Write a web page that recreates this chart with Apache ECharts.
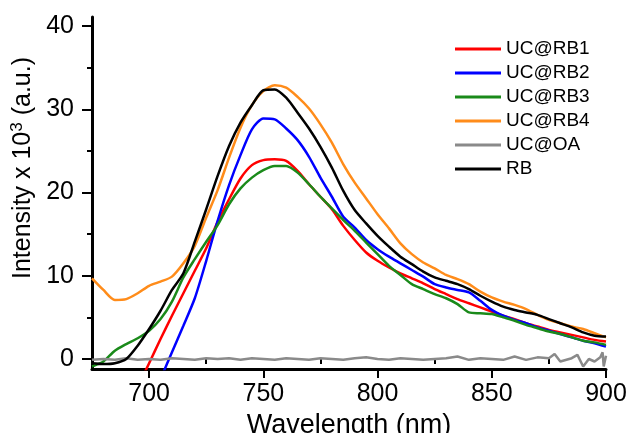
<!DOCTYPE html>
<html>
<head>
<meta charset="utf-8">
<script src="https://cdn.jsdelivr.net/npm/echarts@6/dist/echarts.min.js"></script>
<style>html,body{margin:0;padding:0;background:#fff}#c{width:630px;height:433px}</style>
</head>
<body>
<div id="c"></div>
<script>
const wavelength = [675,680,685,690,695,700,705,710,715,720,725,730,735,740,745,750,755,760,765,770,775,780,785,790,795,800,805,810,815,820,825,830,835,840,845,850,855,860,865,870,875,880,885,890,895,900];
const ucRB1 = [null,null,null,null,-3.4,-0.5,2.4,5.2,7.9,10.6,13.3,16.5,19.2,21.7,23.3,23.9,24.0,23.8,22.6,21.0,19.5,18.0,16.0,14.3,12.8,11.8,11.0,10.3,9.7,9.1,8.4,7.8,7.2,6.7,6.2,5.7,5.2,4.8,4.3,3.9,3.5,3.2,2.9,2.6,2.3,2.1];
const ucRB2 = [null,null,null,null,null,null,-2.4,0.8,4.0,7.3,11.8,16.6,20.9,24.5,27.6,28.9,28.8,27.7,26.3,24.3,21.8,19.5,17.1,15.8,14.3,13.2,12.3,11.5,10.7,9.9,9.0,8.6,8.3,8.0,7.0,5.9,5.2,4.7,4.3,3.8,3.4,3.0,2.6,2.2,1.9,1.5];
const ucRB3 = [-0.9,-0.3,1.0,1.8,2.5,3.4,4.8,6.9,9.8,12.0,14.1,16.1,18.6,20.5,21.8,22.7,23.2,23.2,22.4,21.0,19.5,18.1,16.7,15.4,14.0,12.6,11.2,10.1,9.0,8.4,7.8,7.3,6.6,5.6,5.5,5.4,5.0,4.6,4.1,3.7,3.3,3.0,2.6,2.2,2.0,1.7];
const ucRB4 = [9.7,8.3,7.1,7.2,7.9,8.8,9.3,9.9,11.5,13.6,17.0,20.3,24.2,27.8,30.5,32.2,32.9,32.6,31.5,30.1,28.2,26.0,23.4,21.2,19.3,17.4,15.7,13.9,12.6,11.6,10.9,10.1,9.6,9.0,8.1,7.4,6.9,6.5,6.0,5.3,4.7,4.3,3.9,3.6,3.1,2.6];
const rb = [-0.5,-0.6,-0.5,0.0,1.6,3.6,5.8,8.3,10.3,14.1,18.0,22.0,25.6,28.4,30.5,32.3,32.4,31.4,29.6,27.7,25.5,23.0,20.2,17.9,16.3,14.8,13.5,12.3,11.4,10.5,9.8,9.4,9.0,8.4,7.6,6.9,6.3,5.9,5.6,5.3,4.8,4.3,3.8,3.2,2.8,2.7];
const grayX = [675,680,685,690,695,700,705,710,715,720,725,730,735,740,745,750,755,760,765,770,775,780,785,790,795,800,805,810,815,820,825,830,835,840,845,850,855,860,865,870,875,877.5,880,885,887.5,890,892.5,895,897.5,898.5,899,900];
const ucOA = [-0.1,0.0,-0.1,0.1,-0.1,0.0,-0.1,0.1,0.0,-0.1,0.1,0.0,0.1,-0.1,0.1,0.0,-0.1,0.1,0.0,-0.1,0.1,0.0,-0.1,0.1,0.2,0.0,-0.1,0.1,0.0,-0.1,0.0,0.1,0.3,-0.1,0.1,0.0,-0.1,0.3,-0.1,0.2,0.1,0.6,-0.3,0.1,0.5,-0.9,0.0,-0.3,0.2,0.8,-0.9,0.4];

const xMajor = [700,750,800,850,900];
const xMinor = [725,775,825,875];
const yMajor = [0,10,20,30,40];
const yMinor = [5,15,25,35];

const names = ['UC@RB1','UC@RB2','UC@RB3','UC@RB4','UC@OA','RB'];
const colors = ['#ff0000','#0000ff','#1a8a1a','#ff8c1a','#8a8a8a','#000000'];

function pairs(xs, ys){ return xs.map((x,i)=>[x, ys[i]]); }
const seriesData = [pairs(wavelength,ucRB1), pairs(wavelength,ucRB2), pairs(wavelength,ucRB3), pairs(wavelength,ucRB4), pairs(grayX,ucOA), pairs(wavelength,rb)];

const FONT = 'Liberation Sans, Arial, sans-serif';
const chart = echarts.init(document.getElementById('c'), null, {renderer:'canvas'});
chart.setOption({
  backgroundColor: '#ffffff',
  animation: false,
  grid: {left: 92, right: 24, top: 17, bottom: 64, containLabel: false, outerBoundsMode: 'none'},
  legend: {
    orient: 'vertical', left: 450, top: 34, itemGap: 4,
    icon: 'rect', itemWidth: 46, itemHeight: 3,
    data: names,
    textStyle: {fontFamily: FONT, fontSize: 19, color: '#000', lineHeight: 20}
  },
  xAxis: [{
    type: 'value', min: 675, max: 900, position: 'bottom',
    name: 'Wavelength (nm)', nameLocation: 'middle', nameGap: 43, nameMoveOverlap: false,
    nameTextStyle: {fontFamily: FONT, fontSize: 27, color: '#000'},
    axisLine: {show: true, onZero: false, lineStyle: {color: '#000', width: 3}},
    axisTick: {show: true, inside: false, length: 9, customValues: xMajor, lineStyle: {color: '#000', width: 2}},
    axisLabel: {show: true, customValues: xMajor, margin: 13, fontFamily: FONT, fontSize: 25, color: '#000'},
    splitLine: {show: false}
  },{
    type: 'value', min: 675, max: 900, position: 'bottom',
    axisLine: {show: false},
    axisTick: {show: true, inside: false, length: 5, customValues: xMinor, lineStyle: {color: '#000', width: 2}},
    axisLabel: {show: false},
    splitLine: {show: false}
  }],
  yAxis: [{
    type: 'value', min: -1.2, max: 41.1, position: 'left',
    name: 'Intensity x 10{sup|3} (a.u.)', nameLocation: 'middle', nameRotate: 90, nameGap: 54, nameMoveOverlap: false,
    nameTextStyle: {fontFamily: FONT, fontSize: 25, color: '#000', padding: [0,0,0,50],
      rich: {sup: {fontFamily: FONT, fontSize: 17, color: '#000', verticalAlign: 'top', padding: [0,0,12,0]}}},
    axisLine: {show: true, onZero: false, lineStyle: {color: '#000', width: 3}},
    axisTick: {show: true, inside: false, length: 10, customValues: yMajor, lineStyle: {color: '#000', width: 2}},
    axisLabel: {show: true, customValues: yMajor, margin: 18, fontFamily: FONT, fontSize: 25, color: '#000'},
    splitLine: {show: false}
  },{
    type: 'value', min: -1.2, max: 41.1, position: 'left',
    axisLine: {show: false},
    axisTick: {show: true, inside: false, length: 5, customValues: yMinor, lineStyle: {color: '#000', width: 2}},
    axisLabel: {show: false},
    splitLine: {show: false}
  }],
  series: names.map((n,i)=>({
    name: n, type: 'line', xAxisIndex: 0, yAxisIndex: 0,
    data: seriesData[i], showSymbol: false, symbol: 'none', clip: true,
    connectNulls: false, smooth: i === 4 ? false : 0.25,
    color: colors[i],
    lineStyle: {color: colors[i], width: 2.5},
    z: 2 + i
  }))
});
</script>
</body>
</html>
